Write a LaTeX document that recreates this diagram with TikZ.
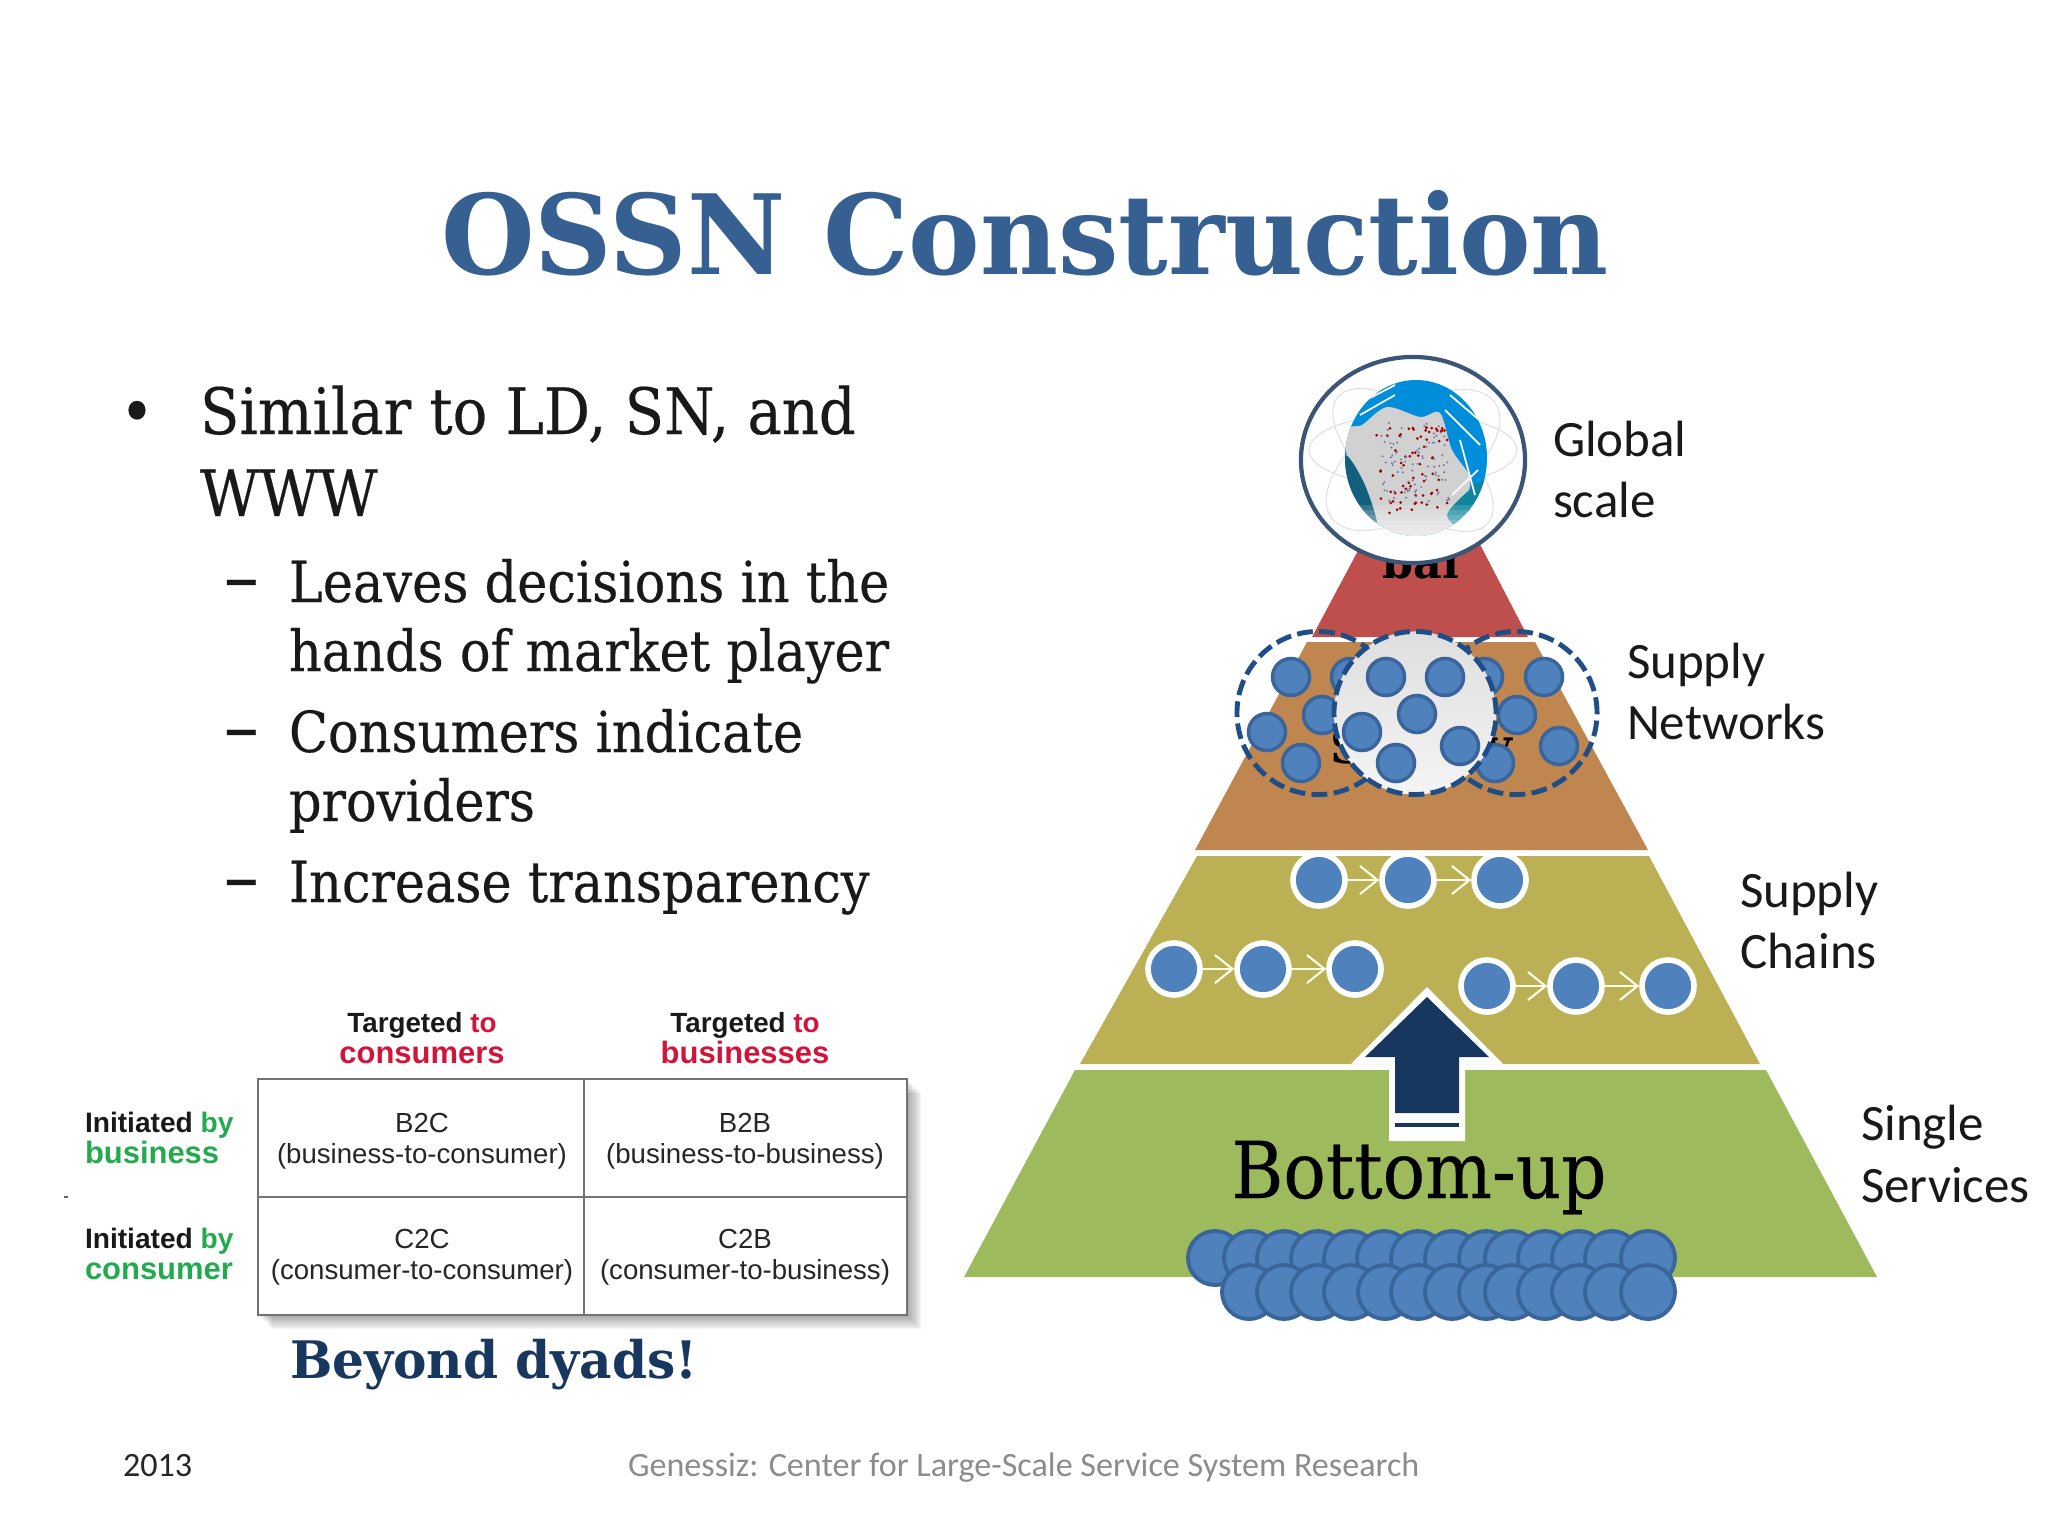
\documentclass[tikz,border=0pt]{standalone}
\usepackage{fontspec}
\setmainfont[FakeStretch=0.9,FakeBold=0.35]{DejaVu Serif}
\newfontfamily\titlefont[FakeStretch=0.97]{DejaVu Serif}
\newfontfamily\labelfont{Carlito}
\newfontfamily\tablefont{Liberation Sans}
\usetikzlibrary{arrows.meta,calc,shapes.geometric}
\definecolor{titleblue}{HTML}{376092}
\definecolor{navy}{HTML}{17375E}
\definecolor{nodeblue}{HTML}{4F81BD}
\definecolor{nodeedge}{HTML}{3A659B}
\definecolor{ringblue}{HTML}{1F4E86}
\definecolor{tiergreen}{HTML}{9DBB5C}
\definecolor{tierolive}{HTML}{BCB055}
\definecolor{tierbrown}{HTML}{BF8650}
\definecolor{tierred}{HTML}{BE4F4C}
\definecolor{tablered}{HTML}{D2143A}
\definecolor{tablegreen}{HTML}{22AB4E}

\begin{document}
\begin{tikzpicture}[x=0.01cm,y=-0.01cm]

\tikzset{txt/.style={inner sep=0pt,outer sep=0pt,anchor=base west},
mid/.style={inner sep=0pt,outer sep=0pt,anchor=base},
body/.style={txt,font=\fontsize{18.2}{20}\selectfont,text=black!90},
sub/.style={txt,font=\fontsize{16.1}{18}\selectfont,text=black!90},
tierlabel/.style={txt,font=\labelfont\fontsize{14.5}{17}\selectfont,text=black!90},
cell/.style={mid,font=\tablefont\fontsize{7.85}{9}\selectfont,text=black!85},
head/.style={mid,font=\tablefont\bfseries\fontsize{7.9}{9}\selectfont,text=black!90},
headred/.style={mid,font=\tablefont\bfseries\fontsize{8.8}{9}\selectfont,text=tablered},
side/.style={txt,font=\tablefont\bfseries\fontsize{8}{9}\selectfont,text=black!90},
sidegreen/.style={txt,font=\tablefont\bfseries\fontsize{8.8}{9}\selectfont,text=tablegreen},
netnode/.style={circle,inner sep=0pt,minimum size=0.37cm,fill=nodeblue,draw=nodeedge,line width=1pt},
chainnode/.style={circle,inner sep=0pt,minimum size=0.52cm,fill=nodeblue,draw=white,line width=1.6pt},
crowdnode/.style={circle,inner sep=0pt,minimum size=0.54cm,fill=nodeblue,draw=nodeedge,line width=1.1pt},
ring/.style={ellipse,inner sep=0pt,minimum width=1.62cm,minimum height=1.63cm,draw=ringblue,line width=1.4pt,dash pattern=on 4.5pt off 1.8pt},
link/.style={draw=white!92!yellow,line width=0.6pt,-{Straight Barb[length=5pt,width=8pt]}}}

\useasboundingbox (0,0) rectangle (2048,1536);

% Title and bullets
\node[mid,font=\titlefont\bfseries\fontsize{31.5}{38}\selectfont,text=titleblue] (title) at (1025,274) {OSSN Construction};
\node[body] (b0) at (120,434) {•};
\node[body] (b1) at (200,434) {Similar to LD, SN, and};
\node[body] (b2) at (200,516) {WWW};
\node[sub,font=\fontsize{22}{24}\selectfont] (d1) at (224,603) {–};
\node[sub] (s1) at (289,602) {Leaves decisions in the};
\node[sub] (s2) at (289,671) {hands of market player};
\node[sub,font=\fontsize{22}{24}\selectfont] (d2) at (224,753) {–};
\node[sub] (s3) at (289,752) {Consumers indicate};
\node[sub] (s4) at (289,821) {providers};
\node[sub,font=\fontsize{22}{24}\selectfont] (d3) at (224,903) {–};
\node[sub] (s5) at (289,902) {Increase transparency};

% Table
\foreach \i in {1,...,9} \fill[black,opacity=0.045] ($(258,1079)+(\i*1.6,\i*1.6)$) rectangle ($(907,1315)+(\i*1.6,\i*1.6)$);
\draw[black!55,fill=white,line width=0.45pt] (258,1079) rectangle (907,1315);
\draw[black!55,line width=0.45pt] (584,1079) -- (584,1315);
\draw[black!55,line width=0.45pt] (258,1197) -- (907,1197);
\node[head] (h1) at (422,1032) {Targeted {\color{tablered}to}};
\node[headred] (h2) at (422,1063) {consumers};
\node[head] (h3) at (745,1032) {Targeted {\color{tablered}to}};
\node[headred] (h4) at (745,1063) {businesses};
\node[side] (l1) at (85,1132) {Initiated {\color{tablegreen}by}};
\node[sidegreen] (l2) at (85,1163) {business};
\node[side] (l3) at (85,1248) {Initiated {\color{tablegreen}by}};
\node[sidegreen] (l4) at (85,1279) {consumer};
\node[cell] (c1) at (422,1132) {B2C};
\node[cell] (c2) at (422,1163) {(business-to-consumer)};
\node[cell] (c3) at (745,1132) {B2B};
\node[cell] (c4) at (745,1163) {(business-to-business)};
\node[cell] (c5) at (422,1248) {C2C};
\node[cell] (c6) at (422,1279) {(consumer-to-consumer)};
\node[cell] (c7) at (745,1248) {C2B};
\node[cell] (c8) at (745,1279) {(consumer-to-business)};
\draw[black!60,line width=0.4pt] (64,1197) -- (68,1197);
\node[txt,font=\titlefont\bfseries\fontsize{14.7}{19}\selectfont,text=navy] (dyads) at (290,1378) {Beyond dyads!};

% Footer
\node[txt,font=\labelfont\fontsize{9.7}{12}\selectfont,text=black!85] (year) at (123,1476) {2013};
\node[txt,font=\labelfont\fontsize{9.7}{12}\selectfont,text=black!45] (foot) at (628,1476) {Genessiz: Center for Large-Scale Service System Research};

% Pyramid
\fill[tiergreen] (1075,1070) -- (1766,1070) -- (1877,1277) -- (964,1277) -- cycle;
\fill[tierolive] (1197,856) -- (1649,856) -- (1760,1064) -- (1080,1064) -- cycle;
\fill[tierbrown] (1307,642) -- (1535,642) -- (1648,850) -- (1195,850) -- cycle;
\fill[tierred] (1385,500) -- (1457,500) -- (1528,637) -- (1312,637) -- cycle;
\node[mid,font=\titlefont\bfseries\fontsize{13}{15}\selectfont] (bal) at (1421,578) {bal};
\node[mid,font=\titlefont\bfseries\fontsize{14}{15}\selectfont] (sup) at (1421,763) {Supply};

% Globe
\node[ellipse,inner sep=0pt,minimum width=2.24cm,minimum height=2.06cm,fill=white,draw=navy!85,line width=1.2pt] (globe) at (1413,460) {};
\draw[black!12,line width=0.3pt] (1413,450) ellipse (104 and 36);
\draw[black!12,line width=0.3pt,rotate around={35:(1413,460)}] (1413,460) ellipse (100 and 50);
\draw[black!12,line width=0.3pt,rotate around={-40:(1413,460)}] (1413,460) ellipse (98 and 44);
\begin{scope}
\clip (1416,458) ellipse (71 and 78);
\fill[blue!35!cyan!85!black] (1340,375) rectangle (1490,540);
\fill[black!18] plot[smooth cycle] coordinates {(1345,432) (1362,425) (1387,407) (1420,417) (1440,413) (1452,450) (1470,478) (1463,507) (1440,545) (1397,545) (1367,525) (1353,493)};
\fill[navy!80!cyan] plot[smooth cycle] coordinates {(1345,458) (1350,507) (1377,527) (1367,490) (1353,463)};
\fill[navy!60!cyan] plot[smooth cycle] coordinates {(1447,515) (1473,487) (1490,480) (1470,530)};
\draw[white,line width=0.5pt] (1445,410) -- (1480,445) (1450,395) -- (1485,425) (1460,440) -- (1475,495) (1452,495) -- (1478,470) (1360,415) -- (1395,395) (1370,398) -- (1395,385);
\foreach \i in {0,...,6} \fill[white,opacity=0.14] (1340,{505+\i*5}) rectangle (1490,540);
\pgfmathsetseed{17}
\foreach \i in {1,...,70} \fill[red!65!black] ({1412+rnd*50-25+rnd*30-15},{468+rnd*90-45}) circle (1.5);
\foreach \i in {1,...,90} \fill[blue!35!black!55] ({1415+rnd*70-35},{462+rnd*80-40}) circle (1.1);
\end{scope}

% Networks
\node[ring] (leftNet) at (1318,713) {};
\node[ring] (rightNet) at (1516,713) {};
\foreach \n/\x/\y in {a/1291/677,b/1350/677,c/1322/715,d/1267/732,e/1301/763,f/1484/677,g/1544/677,h/1517/715,i/1495/763,j/1559/746}
  \node[netnode] (n\n) at (\x,\y) {};
\node[ring,shade,top color=black!13,bottom color=black!4] (midNet) at (1415,713) {};
\foreach \n/\x/\y in {a/1386/677,b/1445/677,c/1417/714,d/1362/732,e/1396/763,f/1460/746}
  \node[netnode] (m\n) at (\x,\y) {};

% Chains
\node[chainnode] (r1a) at (1319,880) {}; \node[chainnode] (r1b) at (1408,880) {}; \node[chainnode] (r1c) at (1500,880) {};
\node[chainnode] (r2a) at (1174,969) {}; \node[chainnode] (r2b) at (1263,969) {}; \node[chainnode] (r2c) at (1355,969) {};
\node[chainnode] (r3a) at (1487,986) {}; \node[chainnode] (r3b) at (1576,986) {}; \node[chainnode] (r3c) at (1668,986) {};
\foreach \r in {r1,r2,r3} {\draw[link] (\r a) -- (\r b); \draw[link] (\r b) -- (\r c);}

% Big arrow
\fill[white] (1427,987) -- (1503,1064) -- (1465,1064) -- (1465,1141) -- (1389,1141) -- (1389,1064) -- (1351,1064) -- cycle;
\fill[navy] (1427,997) -- (1489,1057) -- (1459,1057) -- (1459,1113) -- (1395,1113) -- (1395,1057) -- (1365,1057) -- cycle;
\fill[navy] (1395,1123) rectangle (1459,1127);
\node[mid,font=\fontsize{22.3}{25}\selectfont,text=black] (bottomUp) at (1419,1198) {Bottom-up};

% Single services
\foreach \x [count=\i] in {1215,1251,1284,1318,1351,1384,1418,1452,1486,1512,1545,1579,1612,1648}
  \node[crowdnode] (u\i) at (\x,1258) {};
\foreach \x [count=\i] in {1249,1284,1318,1351,1385,1418,1452,1486,1512,1545,1579,1612,1648}
  \node[crowdnode] (v\i) at (\x,1292) {};

% Tier labels
\node[tierlabel] (t1) at (1553,456) {Global};
\node[tierlabel] (t2) at (1553,517) {scale};
\node[tierlabel] (t3) at (1627,678) {Supply};
\node[tierlabel] (t4) at (1627,739) {Networks};
\node[tierlabel] (t5) at (1740,907) {Supply};
\node[tierlabel] (t6) at (1740,968) {Chains};
\node[tierlabel] (t7) at (1861,1140) {Single};
\node[tierlabel] (t8) at (1861,1202) {Services};

\end{tikzpicture}
\end{document}
